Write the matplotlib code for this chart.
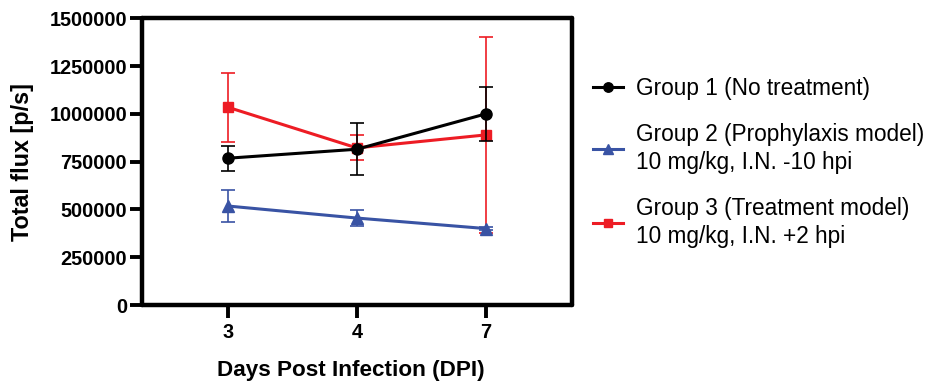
import matplotlib
matplotlib.use("Agg")
import matplotlib.pyplot as plt
import numpy as np

plt.rcParams['font.family'] = ['Liberation Sans', 'DejaVu Sans']

days = ["3", "4", "7"]

g1_mean = [768000, 815000, 1000000]
g1_sem = [65000, 137000, 140000]

g2_mean = [518000, 455000, 400000]
g2_sem = [85000, 42000, 8000]

g3_mean = [1035000, 822000, 890000]
g3_sem = [180000, 65000, 511000]

labels = ["Group 1 (No treatment)",
          "Group 2 (Prophylaxis model)\n10 mg/kg, I.N. -10 hpi",
          "Group 3 (Treatment model)\n10 mg/kg, I.N. +2 hpi"]

yticks = [0, 250000, 500000, 750000, 1000000, 1250000, 1500000]

black = "#000000"
blue = "#3953a4"
red = "#ed1c24"

fig = plt.figure(figsize=(9.33, 3.84), dpi=100)
ax = fig.add_axes([0.1525, 0.2057, 0.461, 0.7466])

x = np.arange(len(days))

series = [(g1_mean, g1_sem, black, "o", 8, 6),
          (g2_mean, g2_sem, blue, "^", 8, 5),
          (g3_mean, g3_sem, red, "s", 7.5, 4)]

handles = []
for mean, sem, col, mk, ms, z in series:
    ax.errorbar(x, mean, yerr=sem, fmt="none", ecolor=col, elinewidth=1.2,
                capsize=5, capthick=1.2, zorder=z)
    h, = ax.plot(x, mean, color=col, marker=mk, markersize=ms, linewidth=2.2,
                 zorder=z + 0.5)
    handles.append(h)

ax.set_xlim(-0.662, 2.671)
ax.set_ylim(0, 1500000)
ax.set_xticks(x)
ax.set_xticklabels(days)
ax.set_yticks(yticks)
ax.set_yticklabels([str(t) for t in yticks])

for s in ax.spines.values():
    s.set_linewidth(3.2)
    s.set_capstyle("round")

ax.tick_params(axis="both", direction="out", length=9, width=2.8,
               labelsize=14.3, pad=2)
ax.tick_params(axis="x", pad=4)
for lbl in ax.get_xticklabels() + ax.get_yticklabels():
    lbl.set_fontweight("bold")

ax.set_xlabel("Days Post Infection (DPI)", fontsize=16.2, fontweight="bold",
              labelpad=13)
ax.xaxis.label.set_x(0.485)
ax.set_ylabel("Total flux [p/s]", fontsize=16.8, fontweight="bold", labelpad=11)

leg = fig.legend(handles, labels, loc="upper left", bbox_to_anchor=(0.6255, 0.823),
                 frameon=False, fontsize=16.3, handlelength=1.35, handletextpad=0.55,
                 labelspacing=1.0, borderaxespad=0, markerscale=0.85)
for t in leg.get_texts():
    t.set_linespacing(1.3)

fig.savefig("out.png", dpi=100)
